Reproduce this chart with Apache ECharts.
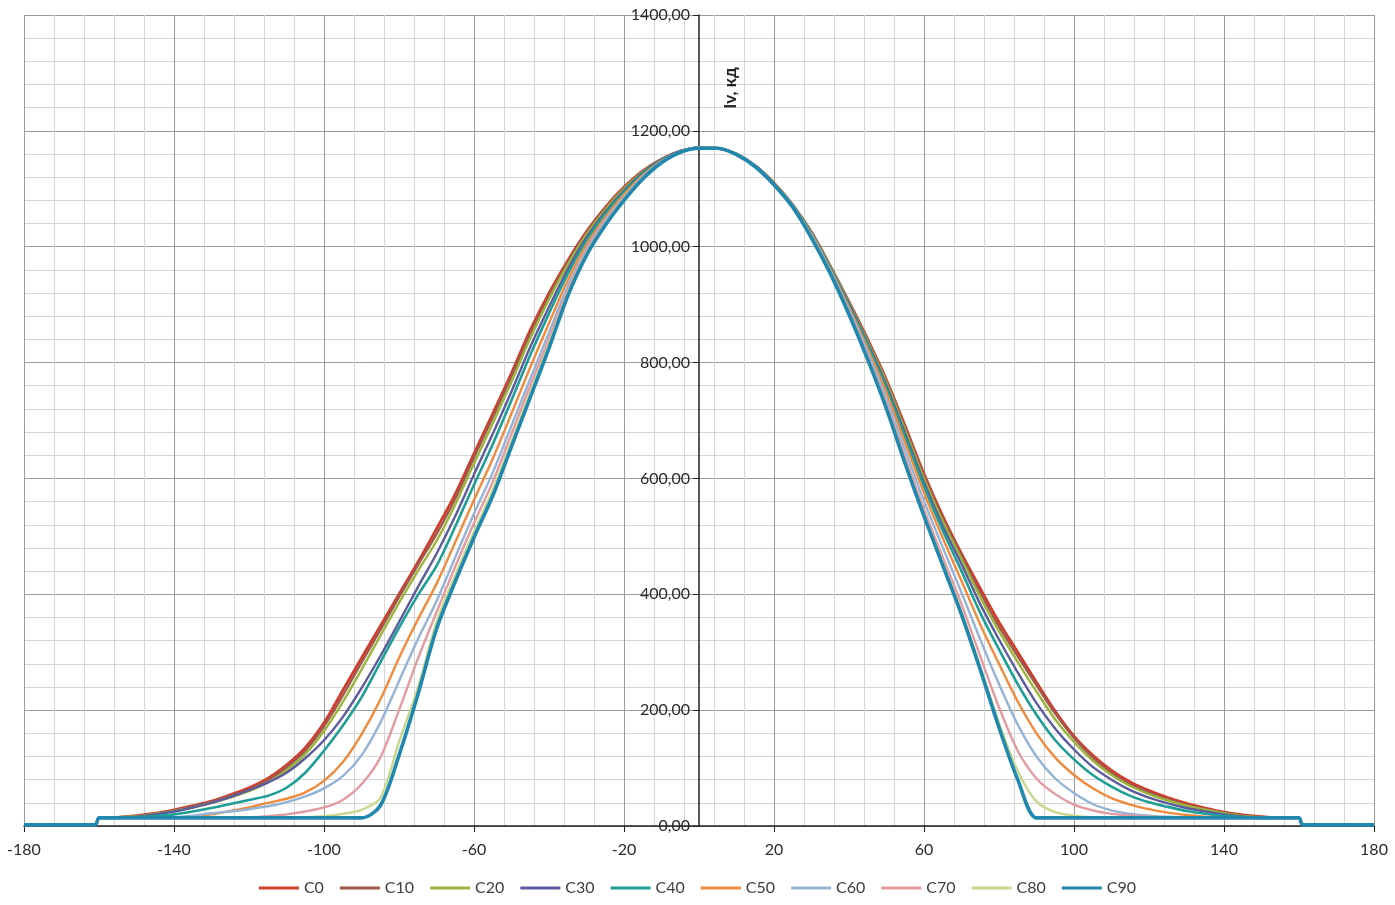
<!DOCTYPE html>
<html>
<head>
<meta charset="utf-8">
<script src="https://cdn.jsdelivr.net/npm/echarts@6/dist/echarts.min.js"></script>
<style>
html,body{margin:0;padding:0;background:#fff;}
#chart{width:1395px;height:905px;}
</style>
</head>
<body>
<div id="chart"></div>
<script>
// Angles (degrees)
const angles = [-180, -161, -160, -155, -150, -145, -140, -135, -130, -125, -120, -115, -110, -105, -100, -95, -90, -85, -80, -75, -70, -65, -60, -55, -50, -45, -40, -35, -30, -25, -20, -15, -10, -5, 0, 5, 10, 15, 20, 25, 30, 35, 40, 45, 50, 55, 60, 65, 70, 75, 80, 85, 90, 95, 100, 105, 110, 115, 120, 125, 130, 135, 140, 145, 150, 155, 160, 161, 180];

const seriesNames = ['C0', 'C10', 'C20', 'C30', 'C40', 'C50', 'C60', 'C70', 'C80', 'C90'];

const C0 = [2,2,14,
 15,18,22,28,35,43,54,66,82,105, 135,178,234,290,345,400,455,513,573,643, 712,782,856,920,976,1026,1068,1103,1131,1151, 1165,
 1171,
 1170,1160,1140,1110,1072,1025,967,905,840,770, 690,608,535,470,410,352,300,248,198,155, 122,96,76,61,49,39,31,24,19,16, 14,
 14,2,2];
const C10 = [2,2,14,
 15,17,21,27,34,42,52,63,79,101, 130,172,225,282,338,395,450,504,565,636, 705,776,850,915,973,1024,1066,1102,1130,1151, 1165,
 1171,
 1170,1160,1140,1110,1072,1025,966,904,838,768, 687,604,531,466,403,344,293,243,194,152, 118,92,72,58,46,37,29,23,18,15, 14,
 14,2,2];
const C20 = [2,2,14,
 15,17,21,26,32,40,49,60,75,96, 124,164,214,270,328,385,440,492,555,626, 695,767,842,909,969,1021,1064,1100,1129,1150, 1165,
 1171,
 1170,1160,1140,1110,1072,1024,966,903,836,765, 683,600,526,461,395,336,283,232,184,145, 113,88,69,55,44,35,28,22,17,15, 14,
 14,2,2];
const C30 = [2,2,14,
 14,16,20,25,32,40,50,62,75,92, 117,148,188,238,293,352,412,470,535,607, 677,750,827,896,961,1016,1060,1097,1128,1150, 1165,
 1171,
 1170,1160,1140,1109,1071,1023,964,901,833,760, 677,593,518,452,383,322,265,212,168,132, 102,80,62,49,39,31,25,20,16,14, 14,
 14,2,2];
const C40 = [2,2,14,
 14,15,17,20,25,31,38,45,52,66, 92,130,173,222,282,342,398,449,517,589, 659,735,813,885,953,1011,1057,1094,1126,1149, 1164,
 1171,
 1170,1160,1139,1109,1071,1022,963,898,830,755, 671,586,510,440,368,305,245,192,148,115, 88,68,52,41,33,26,21,17,15,14, 14,
 14,2,2];
const C50 = [2,2,14,
 14,14,15,15,16,20,26,32,40,47, 58,78,110,158,218,290,356,418,490,563, 634,712,792,868,942,1003,1051,1090,1123,1148, 1164,
 1171,
 1170,1160,1139,1109,1070,1021,961,895,824,748, 661,575,497,423,348,280,215,160,118,88, 65,48,37,29,23,19,16,15,14,14, 14,
 14,2,2];
const C60 = [2,2,14,
 14,14,14,15,18,22,25,29,34,41, 51,65,86,122,178,250,322,388,464,539, 610,691,772,852,932,996,1046,1086,1121,1147, 1164,
 1171,
 1170,1160,1139,1108,1069,1019,959,891,818,738, 648,561,481,403,322,245,175,120,82,57, 38,27,21,18,16,15,14,14,14,14, 14,
 14,2,2];
const C70 = [2,2,14,
 14,14,14,14,14,14,14,15,17,20, 25,32,45,72,118,200,288,369,448,523, 594,677,760,841,925,992,1042,1084,1119,1146, 1163,
 1170,
 1170,1159,1138,1108,1069,1017,956,887,811,729, 636,547,464,383,293,205,130,82,55,37, 27,21,18,16,15,14,14,14,14,14, 14,
 14,2,2];
const C80 = [2,2,14,
 14,14,14,14,14,14,14,14,14,14, 15,17,21,28,48,145,238,352,433,508, 580,664,748,832,919,988,1039,1082,1118,1145, 1163,
 1170,
 1170,1159,1138,1107,1068,1016,955,884,807,723, 628,538,454,369,275,178,95,42,24,18, 15,14,14,14,14,14,14,14,14,14, 14,
 14,2,2];
const C90 = [2,2,14,
 14,14,14,14,14,14,14,14,14,14, 14,14,14,14,35,122,226,340,422,498, 570,655,740,825,915,985,1037,1080,1117,1145, 1163,
 1170,
 1170,1159,1138,1107,1068,1015,954,883,805,720, 625,535,450,365,270,170,80,14,14,14, 14,14,14,14,14,14,14,14,14,14, 14,
 14,2,2];

const seriesValues = [C0, C10, C20, C30, C40, C50, C60, C70, C80, C90];
const seriesColors = ['#D33C2A', '#9E5A4E', '#9BB53C', '#5B5B9E', '#1E9E97', '#F08A3C', '#94B3D6', '#E39AA0', '#C7D88E', '#2088AE'];
const seriesWidths = [2.8, 2.4, 2.4, 2.4, 2.6, 2.4, 2.4, 2.4, 2.4, 3.6];

const xTicks = { min: -180, max: 180, step: 40 };
const yTicks = { min: 0, max: 1400, step: 200 };
const yAxisTitle = 'Iv, кд';

const FONT = 'Lato, "Liberation Sans", sans-serif';
const GRID = { left: 24, right: 21, top: 15, bottom: 79 };
const CHART_W = 1395;

const chart = echarts.init(document.getElementById('chart'), null, { renderer: 'canvas' });

// y axis is drawn at x = 0: shift it from the grid's left edge
const plotW = CHART_W - GRID.left - GRID.right;
const yAxisOffset = -plotW * (0 - xTicks.min) / (xTicks.max - xTicks.min);

const series = seriesNames.map((name, k) => ({
  name: name,
  type: 'line',
  data: angles.map((a, i) => [a, seriesValues[k][i]]),
  symbol: 'none',
  smooth: 0.3,
  lineStyle: { color: seriesColors[k], width: seriesWidths[k] },
  itemStyle: { color: seriesColors[k] },
  emphasis: { disabled: true },
  z: 3 + k
}));

chart.setOption({
  animation: false,
  backgroundColor: '#ffffff',
  grid: Object.assign({ outerBoundsMode: 'none', containLabel: false }, GRID),
  legend: {
    data: seriesNames,
    bottom: 4,
    left: 'center',
    itemWidth: 40,
    itemHeight: 12,
    itemGap: 16,
    icon: 'path://M0,5 L40,5 L40,8 L0,8 Z',
    textStyle: { fontFamily: FONT, fontSize: 16, color: '#404040' }
  },
  xAxis: {
    type: 'value',
    min: xTicks.min,
    max: xTicks.max,
    interval: xTicks.step,
    axisLine: { show: true, onZero: true, lineStyle: { color: '#222', width: 1.5 } },
    axisTick: { show: true, length: 6, lineStyle: { color: '#222' } },
    axisLabel: { fontFamily: FONT, fontSize: 16, color: '#2a2a2a', margin: 16 },
    splitLine: { show: true, lineStyle: { color: '#9a9a9a', width: 1 } },
    minorTick: { show: false, splitNumber: 5 },
    minorSplitLine: { show: true, lineStyle: { color: '#d6d6d6', width: 1 } }
  },
  yAxis: {
    type: 'value',
    position: 'left',
    offset: yAxisOffset,
    min: yTicks.min,
    max: yTicks.max,
    interval: yTicks.step,
    axisLine: { show: true, onZero: false, lineStyle: { color: '#222', width: 1.5 } },
    axisTick: { show: true, length: 6, lineStyle: { color: '#222' } },
    axisLabel: {
      fontFamily: FONT, fontSize: 16, color: '#2a2a2a', margin: 9,
      formatter: v => v.toFixed(2).replace('.', ',')
    },
    splitLine: { show: true, lineStyle: { color: '#9a9a9a', width: 1 } },
    minorTick: { show: false, splitNumber: 5 },
    minorSplitLine: { show: true, lineStyle: { color: '#d6d6d6', width: 1 } }
  },
  graphic: [{
    type: 'text',
    x: 731,
    y: 88,
    rotation: Math.PI / 2,
    style: {
      text: yAxisTitle,
      fontFamily: FONT,
      fontSize: 17,
      fontWeight: 'bold',
      fill: '#222',
      align: 'center',
      verticalAlign: 'middle'
    },
    z: 100
  }],
  series: series
});
</script>
</body>
</html>
